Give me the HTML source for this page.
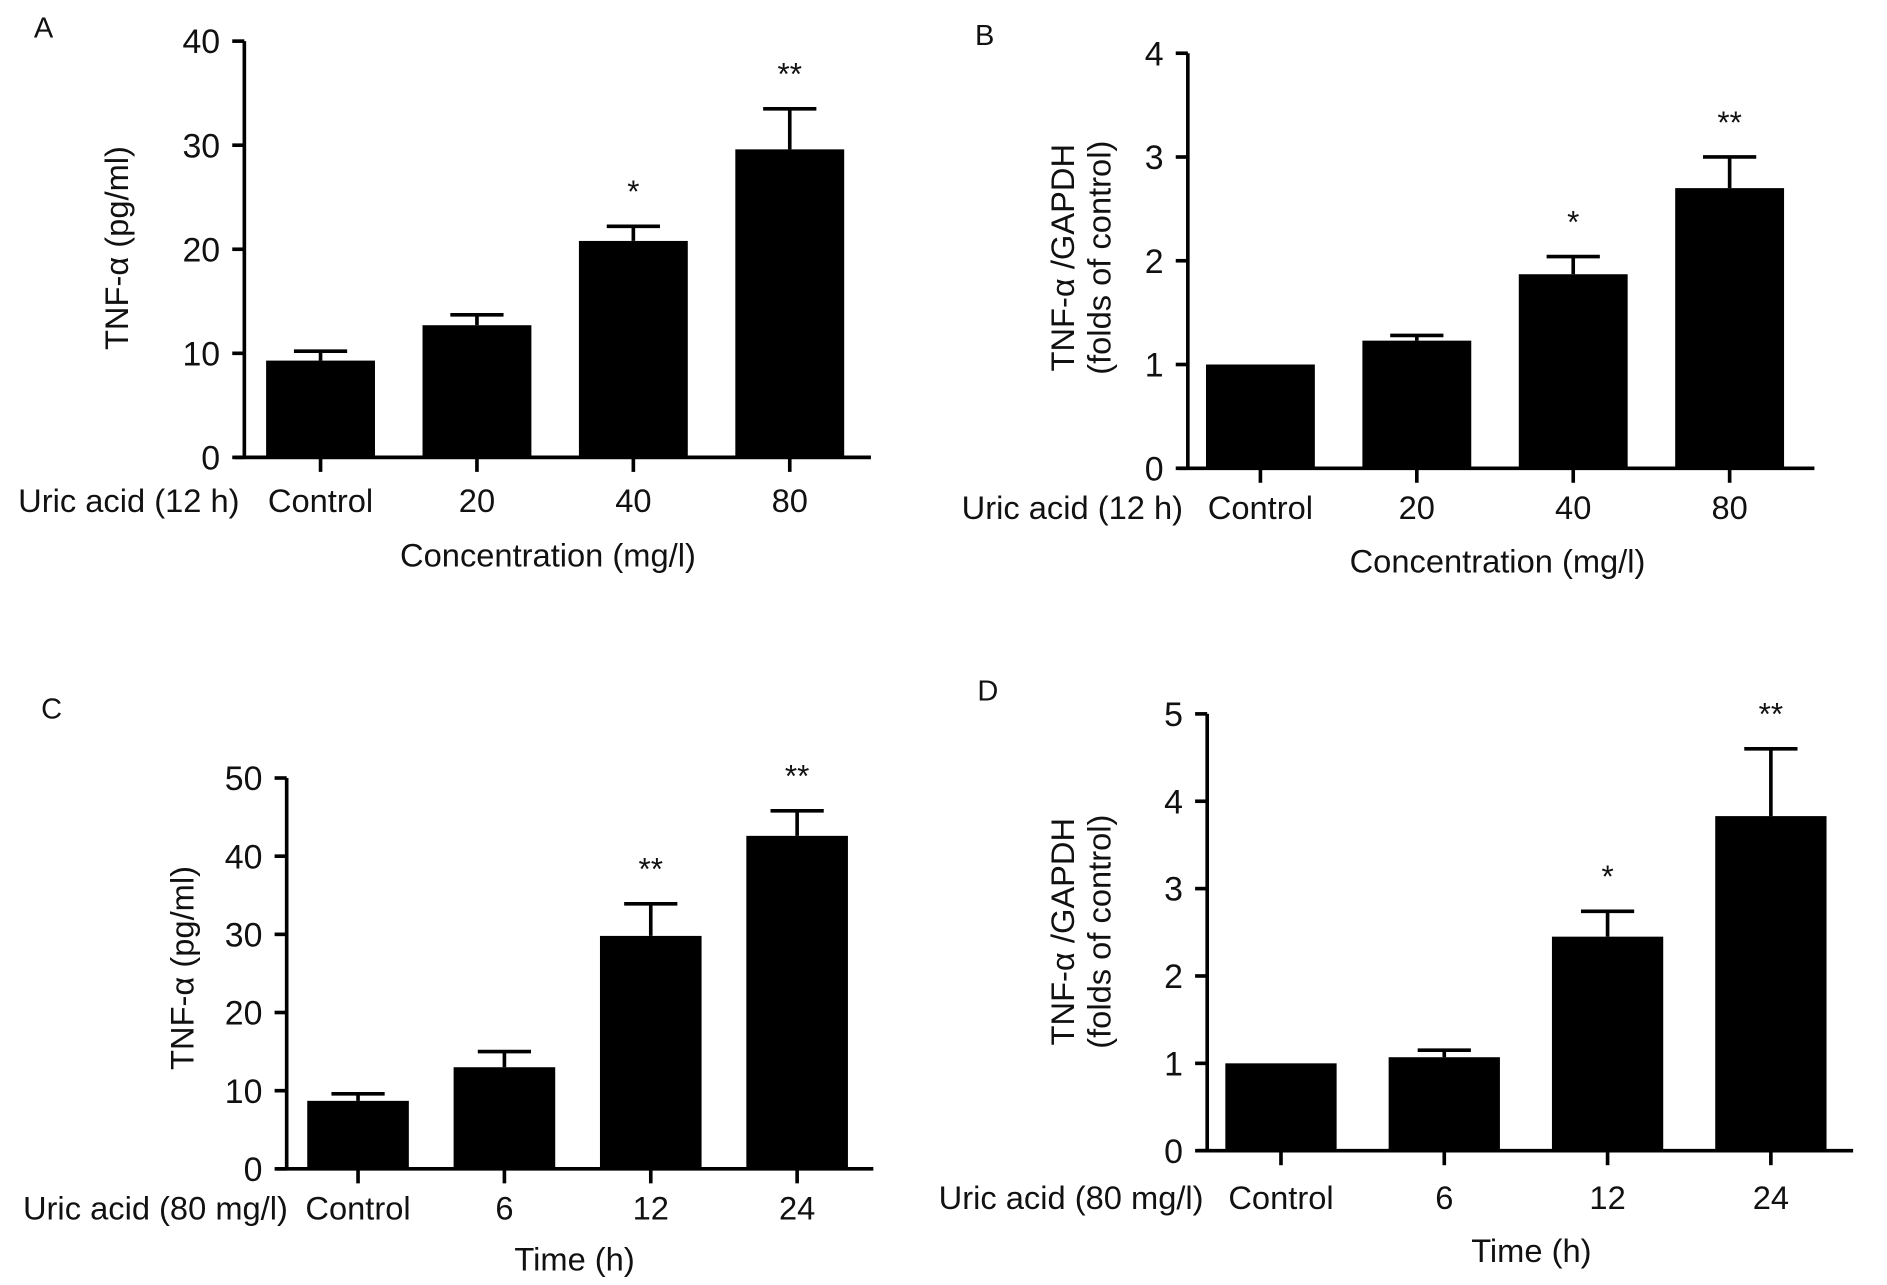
<!DOCTYPE html>
<html><head><meta charset="utf-8"><style>
html,body{margin:0;padding:0;background:#fff;}
svg{display:block;}
text{font-family:"Liberation Sans",Arial,sans-serif;fill:#111;}
</style></head><body>
<svg id="fig" width="1887" height="1285" viewBox="0 0 1560 1062" preserveAspectRatio="none" xmlns="http://www.w3.org/2000/svg"></svg>
<script>
const catsA = ["Control","20","40","80"];
const valsA = [9.3,12.7,20.8,29.6];
const errA  = [10.2,13.7,22.2,33.5];
const sigA  = ["","","*","**"];
const ticksA = [0,10,20,30,40];

const catsB = ["Control","20","40","80"];
const valsB = [1.0,1.23,1.87,2.7];
const errB  = [1.0,1.28,2.04,3.0];
const sigB  = ["","","*","**"];
const ticksB = [0,1,2,3,4];

const catsC = ["Control","6","12","24"];
const valsC = [8.7,13.0,29.8,42.6];
const errC  = [9.6,15.0,33.9,45.8];
const sigC  = ["","","**","**"];
const ticksC = [0,10,20,30,40,50];

const catsD = ["Control","6","12","24"];
const valsD = [1.0,1.07,2.45,3.83];
const errD  = [1.0,1.15,2.74,4.6];
const sigD  = ["","","*","**"];
const ticksD = [0,1,2,3,4,5];

const NS="http://www.w3.org/2000/svg";
const svg=document.getElementById('fig');
function mk(tag,attrs,parent,txt){const e=document.createElementNS(NS,tag);for(const k in attrs)e.setAttribute(k,attrs[k]);if(txt!==undefined)e.textContent=txt;(parent||svg).appendChild(e);return e;}

function panel(p){
  const g=mk('g',{});
  
  
  const max=p.ticks[p.ticks.length-1];
  const y=v=>p.y0-(v/max)*(p.y0-p.yTop);
  const cx=i=>p.first+i*p.gap;
  p.cats.forEach((c,i)=>{
    const x=cx(i);
    const top=y(p.vals[i]);
    const b=mk('rect',{x:x-p.bw/2,y:top,width:p.bw,height:p.y0-top,fill:'#000'},g);
    
    
    if(p.errs[i]>p.vals[i]){
      const ey=y(p.errs[i]);
      const el=mk('path',{d:`M${x},${top}V${ey}M${x-22},${ey}H${x+22}`,stroke:'#000','stroke-width':3,fill:'none'},g);
      
      
    }
    if(p.sig[i]){
      const s=mk('text',{x:x,y:y(p.errs[i])-20,'text-anchor':'middle','font-size':26},g,p.sig[i]);
      
      
    }
    const t=mk('text',{x:x,y:p.catY,'text-anchor':'middle','font-size':27},g,c);
    
    
    mk('line',{x1:x,x2:x,y1:p.y0,y2:p.y0+12,stroke:'#000','stroke-width':3},g);
  });
  const ax=mk('path',{d:`M${p.ax},${p.yTop}V${p.y0}M${p.ax-8},${p.y0}H${p.xEnd}`,stroke:'#000','stroke-width':3,fill:'none'},g);
  
  
  p.ticks.forEach(v=>{
    mk('line',{x1:p.ax-10,x2:p.ax,y1:y(v),y2:y(v),stroke:'#000','stroke-width':3},g);
    const t=mk('text',{x:p.ax-20,y:y(v)+10,'text-anchor':'end','font-size':28},g,String(v));
    
    
  });
  const u=mk('text',{x:p.uricX,y:p.catY,'text-anchor':'end','font-size':27},g,p.uric);
  
  
  const xt=mk('text',{x:p.xtX,y:p.xtY,'text-anchor':'middle','font-size':27},g,p.xt);
  
  
  p.yt.forEach((line,k)=>{
    const yt=mk('text',{x:0,y:0,'text-anchor':'middle','font-size':27,transform:`translate(${p.ytX+k*30},${p.ytY}) rotate(-90)`},g,line);
    
    
  });
  const l=mk('text',{x:p.lx,y:p.ly,'font-size':24},g,p.id);
  
  
}

panel({id:'A',cats:catsA,vals:valsA,errs:errA,sig:sigA,ticks:ticksA,ax:202,yTop:34,y0:378,xEnd:720,first:265,gap:129.3,bw:90,
  catY:423,uric:'Uric acid (12 h)',uricX:198,xt:'Concentration (mg/l)',xtX:453,xtY:468,yt:['TNF-\u03b1 (pg/ml)'],ytX:106,ytY:205,lx:28,ly:31});
panel({id:'B',cats:catsB,vals:valsB,errs:errB,sig:sigB,ticks:ticksB,ax:982,yTop:44,y0:387,xEnd:1500,first:1042,gap:129.3,bw:90,
  catY:429,uric:'Uric acid (12 h)',uricX:978,xt:'Concentration (mg/l)',xtX:1238,xtY:473,yt:['TNF-\u03b1 /GAPDH','(folds of control)'],ytX:888,ytY:213,lx:806,ly:37});
panel({id:'C',cats:catsC,vals:valsC,errs:errC,sig:sigC,ticks:ticksC,ax:237,yTop:643,y0:966,xEnd:722,first:296,gap:121,bw:84,
  catY:1008,uric:'Uric acid (80 mg/l)',uricX:238,xt:'Time (h)',xtX:475,xtY:1050,yt:['TNF-\u03b1 (pg/ml)'],ytX:160,ytY:800,lx:34,ly:594});
panel({id:'D',cats:catsD,vals:valsD,errs:errD,sig:sigD,ticks:ticksD,ax:998,yTop:590,y0:951,xEnd:1532,first:1059,gap:135,bw:92,
  catY:999,uric:'Uric acid (80 mg/l)',uricX:995,xt:'Time (h)',xtX:1266,xtY:1043,yt:['TNF-\u03b1 /GAPDH','(folds of control)'],ytX:888,ytY:770,lx:808,ly:579});
</script>
</body></html>
